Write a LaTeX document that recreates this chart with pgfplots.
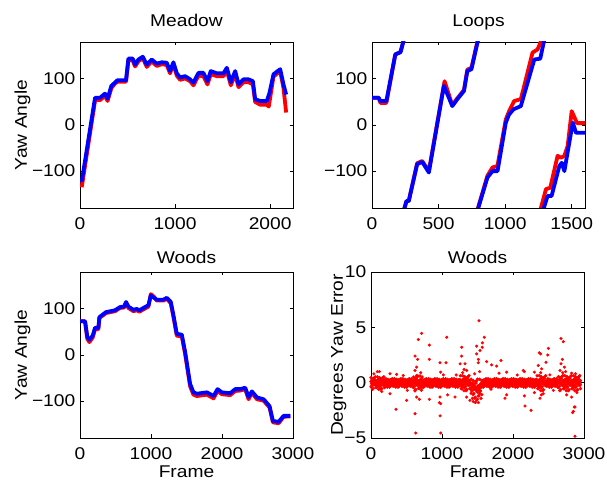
\documentclass[border=0pt]{standalone}
\usepackage{fontspec}
\setmainfont{Liberation Sans}[FakeStretch=1.13]
\usepackage{pgfplots}
\usepackage{pgfplotstable}
\pgfplotsset{compat=1.18}

\newcommand{\mfont}{\fontsize{17}{20}\selectfont}

% yaw error band, frame / three sample columns
\pgfplotstableread{
x a b c
0 0.45 -0.38 0.1
10 -0.3 0.23 -0.1
20 0.08 -0.6 0.2
30 -0.53 0.38 -0.05
40 0.3 -0.08 -0.2
50 -0.15 0.45 0.05
60 0.53 -0.23 0.15
70 -0.45 0.15 -0.15
80 0 -0.45 0
90 -0.3 0.53 0.25
100 0.23 -0.15 -0.25
110 -0.6 0.3 0.1
120 0.45 -0.38 0.1
130 -0.3 0.23 -0.1
140 0.08 -0.6 0.2
150 -0.53 0.38 -0.05
160 0.3 -0.08 -0.2
170 -0.15 0.45 0.05
180 0.53 -0.23 0.15
190 -0.45 0.15 -0.15
200 0 -0.3 0
210 -0.2 0.35 0.25
220 0.15 -0.1 -0.25
230 -0.4 0.2 0.1
240 0.3 -0.25 0.1
250 -0.2 0.15 -0.1
260 0.05 -0.4 0.2
270 -0.35 0.25 -0.05
280 0.2 -0.05 -0.2
290 -0.1 0.3 0.05
300 0.35 -0.15 0.15
310 -0.3 0.1 -0.15
320 0 -0.3 0
330 -0.2 0.35 0.25
340 0.15 -0.1 -0.25
350 -0.4 0.2 0.1
360 0.3 -0.25 0.1
370 -0.2 0.15 -0.1
380 0.05 -0.4 0.2
390 -0.35 0.25 -0.05
400 0.2 -0.05 -0.2
410 -0.1 0.3 0.05
420 0.35 -0.15 0.15
430 -0.3 0.1 -0.15
440 0 -0.3 0
450 -0.2 0.35 0.25
460 0.15 -0.1 -0.25
470 -0.4 0.2 0.1
480 0.3 -0.25 0.1
490 -0.2 0.15 -0.1
500 0.05 -0.4 0.2
510 -0.35 0.25 -0.05
520 0.2 -0.05 -0.2
530 -0.1 0.3 0.05
540 0.35 -0.15 0.15
550 -0.3 0.1 -0.15
560 0 -0.3 0
570 -0.2 0.35 0.25
580 0.15 -0.1 -0.25
590 -0.4 0.2 0.1
600 0.51 -0.43 0.1
610 -0.34 0.26 -0.1
620 0.09 -0.68 0.2
630 -0.6 0.43 -0.05
640 0.34 -0.09 -0.2
650 -0.17 0.51 0.05
660 0.6 -0.26 0.15
670 -0.51 0.17 -0.15
680 0 -0.51 0
690 -0.34 0.6 0.25
700 0.26 -0.17 -0.25
710 -0.68 0.34 0.1
720 0.51 -0.43 0.1
730 -0.2 0.15 -0.1
740 0.05 -0.4 0.2
750 -0.35 0.25 -0.05
760 0.2 -0.05 -0.2
770 -0.1 0.3 0.05
780 0.35 -0.15 0.15
790 -0.3 0.1 -0.15
800 0 -0.3 0
810 -0.2 0.35 0.25
820 0.15 -0.1 -0.25
830 -0.4 0.2 0.1
840 0.3 -0.25 0.1
850 -0.2 0.15 -0.1
860 0.05 -0.4 0.2
870 -0.35 0.25 -0.05
880 0.2 -0.05 -0.2
890 -0.1 0.3 0.05
900 0.35 -0.15 0.15
910 -0.3 0.1 -0.15
920 0 -0.3 0
930 -0.2 0.35 0.25
940 0.15 -0.1 -0.25
950 -0.4 0.2 0.1
960 0.3 -0.25 0.1
970 -0.2 0.15 -0.1
980 0.05 -0.4 0.2
990 -0.35 0.25 -0.05
1000 0.2 -0.05 -0.2
1010 -0.1 0.3 0.05
1020 0.35 -0.15 0.15
1030 -0.3 0.1 -0.15
1040 0 -0.3 0
1050 -0.2 0.35 0.25
1060 0.15 -0.1 -0.25
1070 -0.4 0.2 0.1
1080 0.3 -0.25 0.1
1090 -0.2 0.15 -0.1
1100 0.05 -0.4 0.2
1110 -0.35 0.25 -0.05
1120 0.2 -0.05 -0.2
1130 -0.1 0.3 0.05
1140 0.35 -0.15 0.15
1150 -0.3 0.1 -0.15
1160 0 -0.3 0
1170 -0.2 0.35 0.25
1180 0.15 -0.1 -0.25
1190 -0.4 0.2 0.1
1200 0.3 -0.25 0.1
1210 -0.2 0.15 -0.1
1220 0.05 -0.4 0.2
1230 -0.35 0.25 -0.05
1240 0.2 -0.05 -0.2
1250 -0.1 0.3 0.05
1260 0.63 -0.27 0.15
1270 -0.54 0.18 -0.15
1280 0 -0.54 0
1290 -0.36 0.63 0.25
1300 0.27 -0.18 -0.25
1310 -0.72 0.36 0.1
1320 0.54 -0.45 0.1
1330 -0.36 0.27 -0.1
1340 0.09 -0.72 0.2
1350 -0.63 0.45 -0.05
1360 0.36 -0.09 -0.2
1370 -0.18 0.54 0.05
1380 0.63 -0.27 0.15
1390 -0.54 0.18 -0.15
1400 0 -0.54 0
1410 -0.96 0.31 -0.25
1420 -0.16 -0.73 -0.75
1430 -1.42 -0.04 -0.4
1440 0.19 -1.08 -0.4
1450 -0.96 -0.16 -0.6
1460 -0.39 -1.42 -0.3
1470 -1.31 0.08 -0.55
1480 -0.04 -0.62 -0.7
1490 -0.73 0.19 -0.45
1500 0.31 -0.85 -0.35
1510 -1.19 -0.27 -0.65
1520 -0.5 -1.19 -0.5
1530 -0.96 0.31 -0.25
1540 -0.16 -0.73 -0.75
1550 -1.42 -0.04 -0.4
1560 0.19 -1.08 -0.4
1570 -0.2 0.15 -0.1
1580 0.05 -0.4 0.2
1590 -0.35 0.25 -0.05
1600 0.2 -0.05 -0.2
1610 -0.1 0.3 0.05
1620 0.35 -0.15 0.15
1630 -0.3 0.1 -0.15
1640 0 -0.3 0
1650 -0.2 0.35 0.25
1660 0.15 -0.1 -0.25
1670 -0.4 0.2 0.1
1680 0.3 -0.25 0.1
1690 -0.2 0.15 -0.1
1700 0.05 -0.4 0.2
1710 -0.35 0.25 -0.05
1720 0.2 -0.05 -0.2
1730 -0.1 0.3 0.05
1740 0.35 -0.15 0.15
1750 -0.3 0.1 -0.15
1760 0 -0.3 0
1770 -0.2 0.35 0.25
1780 0.15 -0.1 -0.25
1790 -0.4 0.2 0.1
1800 0.3 -0.25 0.1
1810 -0.2 0.15 -0.1
1820 0.05 -0.4 0.2
1830 -0.35 0.25 -0.05
1840 0.2 -0.05 -0.2
1850 -0.1 0.3 0.05
1860 0.35 -0.15 0.15
1870 -0.3 0.1 -0.15
1880 0 -0.3 0
1890 -0.2 0.35 0.25
1900 0.15 -0.1 -0.25
1910 -0.4 0.2 0.1
1920 0.3 -0.25 0.1
1930 -0.2 0.15 -0.1
1940 0.05 -0.4 0.2
1950 -0.35 0.25 -0.05
1960 0.2 -0.05 -0.2
1970 -0.1 0.3 0.05
1980 0.35 -0.15 0.15
1990 -0.3 0.1 -0.15
2000 0 -0.3 0
2010 -0.2 0.35 0.25
2020 0.15 -0.1 -0.25
2030 -0.4 0.2 0.1
2040 0.3 -0.25 0.1
2050 -0.2 0.15 -0.1
2060 0.05 -0.4 0.2
2070 -0.35 0.25 -0.05
2080 0.2 -0.05 -0.2
2090 -0.1 0.3 0.05
2100 0.35 -0.15 0.15
2110 -0.3 0.1 -0.15
2120 0 -0.3 0
2130 -0.2 0.35 0.25
2140 0.15 -0.1 -0.25
2150 -0.4 0.2 0.1
2160 0.3 -0.25 0.1
2170 -0.2 0.15 -0.1
2180 0.05 -0.4 0.2
2190 -0.35 0.25 -0.05
2200 0.2 -0.05 -0.2
2210 -0.1 0.3 0.05
2220 0.35 -0.15 0.15
2230 -0.3 0.1 -0.15
2240 0 -0.3 0
2250 -0.2 0.35 0.25
2260 0.15 -0.1 -0.25
2270 -0.4 0.2 0.1
2280 0.3 -0.25 0.1
2290 -0.2 0.15 -0.1
2300 0.05 -0.4 0.2
2310 -0.35 0.25 -0.05
2320 0.2 -0.05 -0.2
2330 -0.1 0.3 0.05
2340 0.63 -0.27 0.15
2350 -0.54 0.18 -0.15
2360 0 -0.54 0
2370 -0.36 0.63 0.25
2380 0.27 -0.18 -0.25
2390 -0.72 0.36 0.1
2400 0.54 -0.45 0.1
2410 -0.36 0.27 -0.1
2420 0.09 -0.72 0.2
2430 -0.63 0.45 -0.05
2440 0.36 -0.09 -0.2
2450 -0.18 0.54 0.05
2460 0.63 -0.27 0.15
2470 -0.3 0.1 -0.15
2480 0 -0.3 0
2490 -0.2 0.35 0.25
2500 0.15 -0.1 -0.25
2510 -0.4 0.2 0.1
2520 0.3 -0.25 0.1
2530 -0.2 0.15 -0.1
2540 0.05 -0.4 0.2
2550 -0.35 0.25 -0.05
2560 0.2 -0.05 -0.2
2570 -0.1 0.3 0.05
2580 0.35 -0.15 0.15
2590 -0.3 0.1 -0.15
2600 0 -0.3 0
2610 -0.2 0.35 0.25
2620 0.15 -0.1 -0.25
2630 -0.4 0.2 0.1
2640 0.54 -0.45 0.1
2650 -0.36 0.27 -0.1
2660 0.09 -0.72 0.2
2670 -0.63 0.45 -0.05
2680 0.36 -0.09 -0.2
2690 -0.18 0.54 0.05
2700 0.63 -0.27 0.15
2710 -0.54 0.18 -0.15
2720 0 -0.54 0
2730 -0.36 0.63 0.25
2740 0.27 -0.18 -0.25
2750 -0.72 0.36 0.1
2760 0.54 -0.45 0.1
2770 -0.36 0.27 -0.1
2780 0.09 -0.72 0.2
2790 -0.63 0.45 -0.05
2800 0.36 -0.09 -0.2
2810 -0.18 0.54 0.05
2820 0.63 -0.27 0.15
2830 -0.54 0.18 -0.15
2840 0 -0.54 0
2850 -0.36 0.63 0.25
2860 0.27 -0.18 -0.25
2870 -0.72 0.36 0.1
2880 0.54 -0.45 0.1
2890 -0.36 0.27 -0.1
2900 0.09 -0.72 0.2
2910 -0.63 0.45 -0.05
2920 0.36 -0.09 -0.2
2930 -0.18 0.54 0.05
2940 0.63 -0.27 0.15
2950 -0.54 0.18 -0.15
}\errband

\pgfplotsset{
  every axis title/.style={at={(0.5,1)}, anchor=base, font=\mfont},
  matlab/.style={
    scale only axis, width=213pt, height=166pt, anchor=south west,
    axis line style={black, line width=0.8pt},
    tick style={black, line width=0.8pt}, major tick length=3.5pt,
    ymin=-180, ymax=180, ytick={-100,0,100}, yticklabels={−100,0,100},
    scaled ticks=false, unbounded coords=jump,
    ticklabel style={font=\mfont, inner sep=0pt},
    xticklabel style={yshift=-9pt},
    yticklabel style={xshift=-4.5pt},
    label style={font=\mfont},
    xlabel style={at={(axis description cs:0.5,-0.235)}, anchor=base},
    ylabel style={at={(axis description cs:-0.249,0.5)}, anchor=base},
  },
  truth/.style={red, line width=3.8pt, line join=round},
  est/.style={blue, line width=3.8pt, line join=round},
  dots/.style={red, only marks, mark=*, mark size=1.5pt, mark options={draw=none, fill=red}},
}

\begin{document}
\begin{tikzpicture}
\path[use as bounding box] (0,0) rectangle (607pt,481pt);

% Meadow
\begin{axis}[matlab, at={(80pt,273pt)},
  xmin=0, xmax=2240, xtick={0,1000,2000}, xticklabels={0,1000,2000},
  title={Meadow}, title style={at={(0.5,1.096)}},
  ylabel={Yaw Angle}]
\addplot[truth] coordinates {
(18,-135) (160,55) (210,54) (263,63) (290,52) (330,80) (368,90) (393,94) (484,94)
(509,141) (554,140) (579,127) (614,138) (660,145) (702,126) (754,138) (807,128)
(860,132) (912,130) (947,112) (982,132) (1018,107) (1053,98) (1105,101) (1158,95)
(1193,86) (1246,107) (1298,106) (1340,88) (1375,110) (1439,106) (1509,106) (1544,118)
(1586,86) (1632,110) (1667,82) (1719,93) (1772,93) (1818,88) (1842,50) (1895,44)
(1965,44) (1985,40) (2035,105) (2105,117) (2140,80) (2168,27)};
\addplot[est] coordinates {
(18,-123) (158,59) (210,59) (263,68) (290,57) (330,85) (368,92) (393,97) (484,97)
(509,144) (554,144) (579,131) (614,142) (660,148) (702,131) (754,142) (807,133)
(860,136) (912,135) (947,117) (982,136) (1018,112) (1053,103) (1105,106) (1158,99)
(1193,92) (1246,113) (1298,113) (1340,95) (1375,117) (1439,112) (1509,112) (1544,124)
(1586,93) (1632,117) (1667,88) (1719,99) (1772,99) (1818,95) (1842,56) (1895,52)
(1965,52) (1993,70) (2035,110) (2105,121) (2140,88) (2168,66)};
\end{axis}

% Loops
\begin{axis}[matlab, at={(372pt,273pt)},
  xmin=0, xmax=1600, xtick={0,500,1000,1500}, xticklabels={0,500,1000,1500},
  title={Loops}, title style={at={(0.5,1.096)}}]
\addplot[truth] coordinates {
(0,59) (50,59) (63,48) (108,48) (175,153) (214,158) (239,185) (239,nan)
(239,-185) (259,-165) (276,-165) (339,-83) (377,-78) (427,-100) (545,95) (603,43)
(641,58) (691,76) (716,120) (747,124) (795,185) (795,nan)
(791,-185) (867,-110) (905,-92) (942,-89) (1005,12) (1030,30) (1068,52) (1118,56)
(1206,157) (1244,164) (1274,185) (1274,nan)
(1264,-185) (1307,-139) (1339,-136) (1394,-67) (1420,-71) (1445,-67) (1470,-45)
(1500,30) (1540,4) (1600,4)};
\addplot[est] coordinates {
(0,59) (50,59) (63,52) (108,52) (175,153) (214,158) (239,185) (239,nan)
(239,-185) (259,-165) (276,-165) (339,-85) (377,-80) (427,-103) (540,85) (603,41)
(641,56) (691,74) (716,117) (747,121) (797,185) (797,nan)
(793,-185) (867,-114) (905,-100) (943,-100) (1005,5) (1030,23) (1063,34) (1118,41)
(1219,142) (1264,144) (1294,185) (1294,nan)
(1285,-185) (1319,-154) (1349,-154) (1407,-89) (1425,-82) (1445,-100) (1508,5)
(1533,-17) (1600,-17)};
\end{axis}

% Woods yaw
\begin{axis}[matlab, at={(80pt,43pt)},
  xmin=0, xmax=3000, xtick={0,1000,2000,3000}, xticklabels={0,1000,2000,3000},
  title={Woods}, title style={at={(0.5,1.051)}},
  xlabel={Frame}, ylabel={Yaw Angle}]
\addplot[truth] coordinates {
(0,73) (71,73) (103,35) (132,28) (179,38) (212,56) (259,56) (273,80) (306,84)
(367,91) (494,95) (564,102) (621,103) (649,113) (682,102) (752,95) (799,97) (837,94)
(893,99) (964,105) (997,132) (1044,126) (1081,118) (1175,118) (1222,122) (1279,112)
(1316,83) (1363,42) (1434,40) (1481,2) (1551,-68) (1598,-86) (1645,-89) (1787,-86)
(1881,-94) (1937,-78) (1998,-85) (2116,-87) (2186,-78) (2257,-77) (2327,-74)
(2374,-96) (2421,-82) (2492,-96) (2586,-99) (2670,-114) (2717,-146) (2797,-148)
(2868,-134) (2962,-133)};
\addplot[est] coordinates {
(0,73) (71,73) (103,39) (132,33) (179,42) (212,59) (259,59) (273,82) (306,86)
(367,93) (494,97) (564,104) (621,105) (649,115) (682,105) (752,98) (799,100) (837,97)
(893,102) (964,108) (997,129) (1044,124) (1081,120) (1175,120) (1222,124) (1279,115)
(1316,86) (1363,46) (1434,44) (1481,6) (1551,-63) (1598,-81) (1645,-84) (1787,-81)
(1881,-89) (1937,-74) (1998,-81) (2116,-83) (2186,-74) (2257,-74) (2327,-71)
(2374,-91) (2421,-79) (2492,-92) (2586,-96) (2670,-111) (2717,-143) (2797,-145)
(2868,-132) (2962,-132)};
\end{axis}

% Woods error
\begin{axis}[matlab, at={(371pt,43pt)},
  xmin=0, xmax=3000, xtick={0,1000,2000,3000}, xticklabels={0,1000,2000,3000},
  ymin=-5, ymax=10, ytick={-5,0,5,10}, yticklabels={−5,0,5,10},
  title={Woods}, title style={at={(0.5,1.051)}},
  xlabel={Frame}, ylabel={Degrees Yaw Error},
  ylabel style={at={(axis description cs:-0.1315,0.5)}}]
\addplot[dots] table[x=x, y=a] {\errband};
\addplot[dots] table[x=x, y=b] {\errband};
\addplot[dots] table[x=x, y=c] {\errband};
\addplot[dots, mark size=1.35pt] coordinates {
(1521,5.6) (713,4.46) (1066,4.1) (1596,4.1) (2676,4.0) (667,3.9) (2709,3.7) (1568,3.6)
(822,3.4) (1488,3.3) (1568,3.2) (1277,3.2) (2497,3.1) (1535,2.9) (2371,2.7) (2389,2.6)
(1488,2.6) (2488,2.5) (620,2.4) (1277,2.4) (657,2.1) (822,2.1) (1512,2.1) (2695,2.1)
(1831,2.0) (1629,1.9) (2465,1.85) (972,1.8) (1056,1.8) (1512,1.8) (1254,1.7) (1324,1.7)
(2676,1.7) (1699,1.6) (2357,1.55) (1770,1.5) (2723,1.4) (643,1.4) (620,1.1) (1347,1.1)
(2146,1.1) (2662,1.1) (2404,1.25) (89,1.0) (117,1.0) (981,0.95) (1911,0.95) (2300,0.95)
(2160,1.0) (1803,0.86) (2826,0.86) (268,0.8) (362,0.75) (455,0.65) (643,0.65)
(1290,0.9) (1310,1.2) (1460,0.8) (1530,1.0) (2390,0.9) (2700,0.9) (2740,1.0) (2880,0.8)
(40,0.8) (150,-0.8) (700,0.9) (1020,0.7) (1200,0.7) (2060,0.7) (2520,0.7) (2900,-0.9)
(352,-2.4) (620,-2.8) (972,-3.0) (629,-4.55) (981,-4.55) (2169,-2.1) (2254,-2.5)
(2840,-2.7) (2864,-2.2) (2873,-4.85) (962,-1.8) (981,-1.9) (268,-1.0) (512,-0.7)
(502,-1.6) (620,-0.75) (643,-1.3) (681,-1.5) (822,-1.5) (972,-1.3) (1080,-1.1)
(1183,-1.3) (1347,-1.3) (1394,-1.6) (1488,-1.6) (1512,-1.8) (1690,-0.6) (1911,-1.1)
(1887,-1.4) (2160,-1.2) (2300,-0.9) (2380,-1.4) (2427,-1.0) (2568,-0.7) (2756,-1.1)
(2826,-1.3) (2850,-2.6) (2873,-2.2) (1440,-1.7) (1470,-1.8) (1500,-1.5) (2400,-1.1)};
\end{axis}
\end{tikzpicture}
\end{document}
